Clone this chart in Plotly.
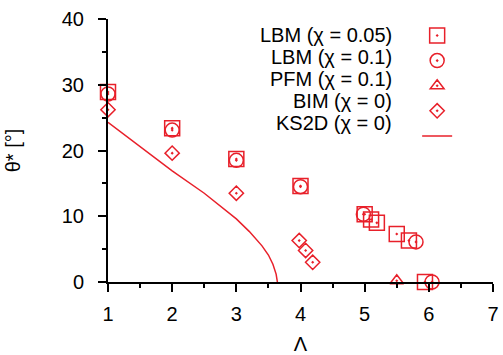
import plotly.graph_objects as go

RED = "#e8202a"

lbm005_x = [1, 2, 3, 4, 5, 5.1, 5.19, 5.5, 5.69, 5.94]
lbm005_y = [28.9, 23.4, 18.7, 14.6, 10.3, 9.5, 9.0, 7.3, 6.3, 0]
lbm01_x = [1, 2, 3, 4, 4.98, 5.8, 6.05]
lbm01_y = [28.6, 23.1, 18.5, 14.5, 10.3, 6.1, 0]
pfm_x = [5.5]
pfm_y = [0.2]
bim_x = [1, 2, 3, 3.98, 4.08, 4.19]
bim_y = [26.2, 19.6, 13.5, 6.3, 4.8, 3.0]
ks_x = [1, 1.5, 2, 2.5, 2.8, 3.0, 3.2, 3.4, 3.5, 3.57, 3.62, 3.64]
ks_y = [24.3, 20.6, 16.9, 13.5, 11.2, 9.6, 7.7, 5.5, 4.1, 2.7, 1.2, 0]

labels = ["LBM (χ = 0.05)", "LBM (χ = 0.1)", "PFM (χ = 0.1)", "BIM (χ = 0)", "KS2D (χ = 0)"]

FONT = "Liberation Sans, Arial, Helvetica, sans-serif"
FS = 20

fig = go.Figure()
mk = lambda sym, size: dict(symbol=sym, size=size, color=RED, line=dict(color=RED, width=1.5))
fig.add_trace(go.Scatter(x=lbm005_x, y=lbm005_y, mode="markers", name=" ",
                         marker=mk("square-open-dot", 15), cliponaxis=False))
fig.add_trace(go.Scatter(x=lbm01_x, y=lbm01_y, mode="markers", name=" ",
                         marker=mk("circle-open-dot", 14), cliponaxis=False))
fig.add_trace(go.Scatter(x=pfm_x, y=pfm_y, mode="markers", name=" ",
                         marker=mk("triangle-up-open-dot", 12), cliponaxis=False))
fig.add_trace(go.Scatter(x=bim_x, y=bim_y, mode="markers", name=" ",
                         marker=mk("diamond-open-dot", 11), cliponaxis=False))
fig.add_trace(go.Scatter(x=ks_x, y=ks_y, mode="lines", name=" ",
                         line=dict(color=RED, width=1.5), cliponaxis=False))

row0 = 0.939
step = 0.0837
for i, t in enumerate(labels):
    fig.add_annotation(x=0.742, y=row0 - i * step, xref="paper", yref="paper",
                       text=t, showarrow=False, xanchor="right", yanchor="middle",
                       font=dict(family=FONT, size=FS, color="black"))

axis_common = dict(showline=True, linecolor="black", linewidth=2, ticks="outside",
                   ticklen=8, tickwidth=2, tickcolor="black", showgrid=False, zeroline=False,
                   tickfont=dict(family=FONT, size=FS, color="black"))

fig.update_xaxes(range=[1, 7], dtick=1, tick0=1, ticklabelstandoff=5,
                 minor=dict(ticks="outside", dtick=0.5, ticklen=4, tickwidth=2, tickcolor="black"),
                 title=dict(text="Λ", font=dict(family=FONT, size=FS, color="black"), standoff=26),
                 **axis_common)
fig.update_yaxes(range=[0, 40], dtick=10, tick0=0, ticklabelstandoff=10,
                 minor=dict(ticks="outside", dtick=5, ticklen=4, tickwidth=2, tickcolor="black"),
                 title=dict(text="θ* [°]", font=dict(family=FONT, size=FS, color="black"), standoff=36),
                 **axis_common)

fig.update_layout(
    width=503, height=355,
    margin=dict(l=108, r=10, t=19, b=73, autoexpand=False),
    paper_bgcolor="white", plot_bgcolor="white",
    showlegend=True,
    legend=dict(x=0.803, y=1.004, xanchor="left", yanchor="top", bgcolor="rgba(0,0,0,0)",
                font=dict(family=FONT, size=17), itemwidth=30, tracegroupgap=0),
)

fig.write_html("out.html")
